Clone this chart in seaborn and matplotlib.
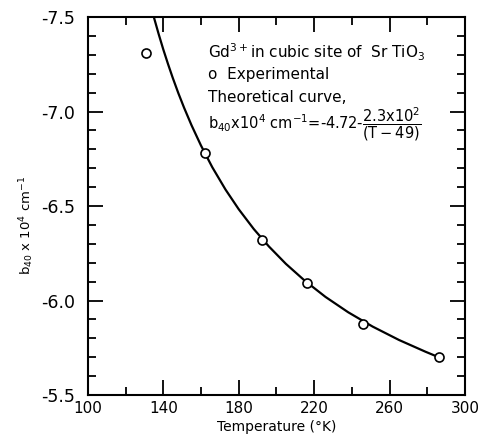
import matplotlib
matplotlib.use("Agg")
import matplotlib.pyplot as plt
from matplotlib.ticker import MultipleLocator, FormatStrFormatter
import seaborn as sns
import pandas as pd

# experimental points (T in K, b40 x 10^4 cm^-1)
exp_T = [131, 162, 192.5, 216, 246, 286]
exp_b = [-7.31, -6.78, -6.32, -6.095, -5.876, -5.70]

# theoretical curve
curve_T = [135, 137.5, 140, 142.5, 145, 148, 151, 155, 160, 166, 173, 180, 188, 196,
           205, 215, 226, 238, 251, 265, 279, 286]
curve_b = [-7.500, -7.412, -7.329, -7.252, -7.179, -7.097, -7.021, -6.927, -6.820, -6.705,
           -6.587, -6.483, -6.378, -6.286, -6.194, -6.105, -6.019, -5.938, -5.862, -5.791,
           -5.729, -5.700]

x_ticks = [100, 140, 180, 220, 260, 300]

sns.set_style("ticks")
plt.rcParams['font.family'] = ['DejaVu Sans']
plt.rcParams['axes.unicode_minus'] = False
plt.rcParams['mathtext.fontset'] = 'dejavusans'
for k in ['text.color', 'axes.labelcolor', 'xtick.color', 'ytick.color', 'axes.edgecolor']:
    plt.rcParams[k] = 'black'

fig = plt.figure(figsize=(4.85, 4.36), dpi=100)
ax = fig.add_axes([0.181, 0.094, 0.778, 0.867])

curve = pd.DataFrame({'T': curve_T, 'b': curve_b})
pts = pd.DataFrame({'T': exp_T, 'b': exp_b})

sns.lineplot(data=curve, x='T', y='b', color='black', linewidth=1.6, sort=False, ax=ax)
ax.plot(pts['T'], pts['b'], linestyle='none', marker='o', markersize=6.5,
        markerfacecolor='white', markeredgecolor='black', markeredgewidth=1.2, zorder=3)

ax.set_xlim(100, 300)
ax.set_ylim(-5.5, -7.5)
ax.set_xticks(x_ticks)
ax.xaxis.set_minor_locator(MultipleLocator(20))
ax.yaxis.set_major_locator(MultipleLocator(0.5))
ax.yaxis.set_minor_locator(MultipleLocator(0.1))
ax.yaxis.set_major_formatter(FormatStrFormatter('%.1f'))

ax.tick_params(which='both', direction='in', top=True, right=True, width=1.3)
ax.tick_params(which='major', length=11)
ax.tick_params(which='minor', length=6)
ax.tick_params(axis='x', labelsize=11, pad=4)
ax.tick_params(axis='y', labelsize=12.5, pad=9)
for s in ax.spines.values():
    s.set_linewidth(1.5)

ax.set_xlabel('Temperature (°K)', fontsize=10, labelpad=3)
ax.set_ylabel(r'b$_{40}$ x 10$^4$ cm$^{-1}$', fontsize=9.5, labelpad=4, y=0.45)

ax.text(0.318, 0.907, r'Gd$^{3+}$in cubic site of  Sr TiO$_3$', transform=ax.transAxes,
        fontsize=11, va='center')
ax.text(0.318, 0.847, 'o  Experimental', transform=ax.transAxes, fontsize=11, va='center')
ax.text(0.318, 0.786, 'Theoretical curve,', transform=ax.transAxes, fontsize=11, va='center')
ax.text(0.318, 0.715, r'b$_{40}$x10$^4$ cm$^{-1}$=-4.72-$\dfrac{2.3\mathrm{x}10^2}{\mathrm{(T-49)}}$',
        transform=ax.transAxes, fontsize=10.5, va='center')

fig.savefig('out.png', dpi=100)
